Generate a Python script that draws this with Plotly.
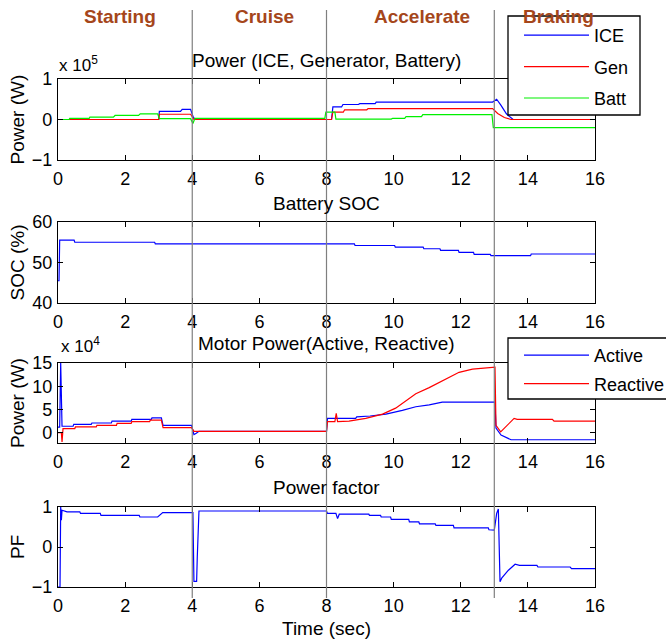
import plotly.graph_objects as go

# ---------------- data ----------------
# Power (ICE, Generator, Battery), units of 1e5 W
ice_t = [0, 3.0, 3.02, 3.65, 3.7, 3.95, 4.02, 4.08, 8.15, 8.19, 8.45, 8.49, 8.95, 8.99, 9.45, 9.48, 12.95, 13.07, 13.2, 13.36, 13.56, 16]
ice_p = [0, 0, 0.2, 0.2, 0.25, 0.25, 0.08, 0, 0, 0.31, 0.31, 0.37, 0.37, 0.39, 0.39, 0.43, 0.43, 0.5, 0.35, 0.14, 0, 0]

gen_t = [0, 3.0, 3.02, 3.95, 4.05, 8.15, 8.19, 8.5, 8.54, 9.2, 9.24, 12.95, 13.1, 13.3, 13.5, 16]
gen_p = [0, 0, 0.13, 0.13, 0, 0, 0.18, 0.18, 0.24, 0.24, 0.27, 0.27, 0.15, 0.05, 0, 0]

batt_t = [0, 0.33, 0.35, 0.93, 0.95, 1.65, 1.7, 2.4, 2.45, 2.97, 3.02, 3.95, 4.02, 4.08, 4.15, 7.95, 7.98, 8.25, 8.28,
          9.93, 9.97, 10.33, 10.37, 10.83, 10.87, 12.93, 12.97, 16]
batt_p = [0, 0, 0.03, 0.03, 0.06, 0.06, 0.1, 0.1, 0.14, 0.14, 0.02, 0.02, -0.1, 0.03, 0.03, 0.03, 0.18, 0.18, 0.01,
          0.01, 0.03, 0.03, 0.07, 0.07, 0.12, 0.12, -0.2, -0.2]

# Battery SOC (%)
soc_t = [0, 0.03, 0.05, 0.48, 0.5, 2.88, 2.9, 8.83, 8.85, 10.03, 10.05, 10.88, 10.9, 11.38, 11.4, 11.93, 11.95,
         12.38, 12.4, 12.88, 12.9, 14.08, 14.1, 16]
soc_v = [45.5, 45.5, 55.5, 55.5, 55.0, 55.0, 54.6, 54.6, 54.2, 54.2, 53.8, 53.8, 53.4, 53.4, 53.0, 53.0, 52.5,
         52.5, 52.0, 52.0, 51.7, 51.7, 52.1, 52.1]

# Motor power, units of 1e4 W
act_t = [0, 0.05, 0.08, 0.12, 0.45, 0.47, 0.99, 1.01, 1.59, 1.61, 2.18, 2.2, 2.78, 2.8, 3.08, 3.13, 3.98, 4.05, 4.12,
         4.2, 8.0, 8.03, 8.87, 8.9, 9.3, 9.77, 10.26, 10.66, 11.06, 11.45, 13.02, 13.05, 13.2, 13.5, 16]
act_p = [1.2, 1.2, 15, 1.4, 1.4, 1.8, 1.8, 2.1, 2.1, 2.5, 2.5, 2.9, 2.9, 3.2, 3.2, 1.6, 1.6, -0.4, -0.1,
         0.3, 0.3, 3.1, 3.1, 3.4, 3.6, 4.0, 4.8, 5.6, 6.0, 6.6, 6.6, 1.0, -0.5, -1.5, -1.5]

rea_t = [0, 0.1, 0.12, 0.15, 0.5, 0.52, 1.14, 1.16, 1.74, 1.76, 2.18, 2.2, 2.73, 2.75, 3.08, 3.13, 3.98, 4.05,
         8.0, 8.03, 8.25, 8.29, 8.33, 8.67, 9.17, 9.67, 10.06, 10.36, 10.66, 11.06, 11.55, 11.95, 12.35, 12.84,
         13.02, 13.05, 13.19, 13.59, 13.68, 14.73, 14.78, 16]
rea_p = [0, 0, -2.0, 0.9, 0.9, 1.25, 1.25, 1.6, 1.6, 2.0, 2.0, 2.4, 2.4, 2.7, 2.7, 1.1, 1.1, 0.3,
         0.3, 2.4, 2.4, 4.2, 2.4, 2.5, 3.1, 4.0, 5.3, 6.8, 8.4, 9.7, 11.6, 13.0, 13.7, 14.1,
         14.1, 1.6, 0.2, 3.1, 2.9, 2.9, 2.5, 2.5]

# Power factor
pf_t = [0, 0.06, 0.08, 0.1, 0.12, 0.25, 0.27, 0.65, 0.67, 1.26, 1.28, 2.42, 2.44, 2.97, 3.05, 3.12, 3.98, 4.02,
        4.05, 4.13, 4.15, 4.2, 8.0, 8.03, 8.28, 8.33, 8.38, 9.26, 9.28, 9.61, 9.63, 9.91, 9.93, 10.45, 10.47,
        10.75, 10.77, 11.24, 11.26, 11.78, 11.8, 12.82, 12.84, 13.0, 13.07, 13.12, 13.17, 13.22, 13.42, 13.62,
        13.75, 14.27, 14.3, 15.26, 15.3, 16]
pf_v = [-1, -1, 1.0, 0.67, 0.92, 0.9, 0.88, 0.88, 0.84, 0.84, 0.79, 0.79, 0.75, 0.75, 0.8, 0.86, 0.86, 0.86,
        -0.86, -0.86, -0.25, 0.9, 0.9, 0.84, 0.84, 0.71, 0.82, 0.82, 0.79, 0.79, 0.75, 0.75, 0.69, 0.69, 0.63,
        0.63, 0.58, 0.58, 0.54, 0.54, 0.48, 0.48, 0.43, 0.42, 0.84, 0.95, -0.87, -0.78, -0.58, -0.43,
        -0.46, -0.46, -0.5, -0.5, -0.54, -0.54]

phase_names = ["Starting", "Cruise", "Accelerate", "Braking"]
phase_centers = [1.85, 6.15, 10.85, 14.9]
phase_bounds = [4, 8, 13]

x_ticks = list(range(0, 17, 2))

# ---------------- figure ----------------
W, H = 666, 642
FONT = "Liberation Sans, Arial, sans-serif"


def px_x(p):
    return p / W


def px_y(p):
    return 1 - p / H


x_dom = [px_x(58), px_x(595)]
panels = [(79, 160), (222, 303), (363, 443), (507, 587)]

fig = go.Figure()

blue, red, green = "#0000FF", "#FF0000", "#00F000"
lw = 1.2

fig.add_trace(go.Scatter(x=ice_t, y=ice_p, mode="lines", name="ICE", line=dict(color=blue, width=lw),
                         xaxis="x", yaxis="y", legend="legend", legendgroup="a"))
fig.add_trace(go.Scatter(x=gen_t, y=gen_p, mode="lines", name="Gen", line=dict(color=red, width=lw),
                         xaxis="x", yaxis="y", legend="legend", legendgroup="b"))
fig.add_trace(go.Scatter(x=batt_t, y=batt_p, mode="lines", name="Batt", line=dict(color=green, width=lw),
                         xaxis="x", yaxis="y", legend="legend", legendgroup="c"))
fig.add_trace(go.Scatter(x=soc_t, y=soc_v, mode="lines", name="SOC", line=dict(color=blue, width=lw),
                         xaxis="x2", yaxis="y2", showlegend=False))
fig.add_trace(go.Scatter(x=act_t, y=act_p, mode="lines", name="Active", line=dict(color=blue, width=lw),
                         xaxis="x3", yaxis="y3", legend="legend2", legendgroup="d"))
fig.add_trace(go.Scatter(x=rea_t, y=rea_p, mode="lines", name="Reactive", line=dict(color=red, width=lw),
                         xaxis="x3", yaxis="y3", legend="legend2", legendgroup="e"))
fig.add_trace(go.Scatter(x=pf_t, y=pf_v, mode="lines", name="PF", line=dict(color=blue, width=lw),
                         xaxis="x4", yaxis="y4", showlegend=False))

axis_common = dict(showline=True, linecolor="black", linewidth=1.3, mirror="ticks", ticks="inside",
                   ticklen=5, tickcolor="black", showgrid=False, zeroline=False, automargin=False,
                   tickfont=dict(family=FONT, size=18, color="black"))

y_ranges = [[-1, 1], [40, 60], [-2.2, 15], [-1, 1]]
y_ticks = [[-1, 0, 1], [40, 50, 60], [0, 5, 10, 15], [-1, 0, 1]]

layout = dict(width=W, height=H, margin=dict(l=0, r=0, t=0, b=0, autoexpand=False), plot_bgcolor="white",
              paper_bgcolor="white", font=dict(family=FONT, size=18, color="black"))
for i, (top, bot) in enumerate(panels):
    k = "" if i == 0 else str(i + 1)
    layout["xaxis" + k] = dict(axis_common, domain=x_dom, range=[0, 16], tickvals=x_ticks,
                               anchor="y" + k, ticklabelstandoff=2)
    layout["yaxis" + k] = dict(axis_common, domain=[px_y(bot), px_y(top)], range=y_ranges[i],
                               tickvals=y_ticks[i], anchor="x" + k, ticklabelstandoff=1)
fig.update_layout(**layout)

# phase boundary lines spanning all panels
shapes = []
for b in phase_bounds:
    shapes.append(dict(type="line", xref="x", yref="paper", x0=b, x1=b, y0=px_y(598), y1=px_y(10),
                       line=dict(color="#7f7f7f", width=1.2), layer="above"))
# legend boxes (MATLAB style, opaque)
shapes.append(dict(type="rect", xref="paper", yref="paper", x0=px_x(508), x1=px_x(640), y0=px_y(115),
                   y1=px_y(16), line=dict(color="black", width=1.3), fillcolor="white", layer="above"))
shapes.append(dict(type="rect", xref="paper", yref="paper", x0=px_x(508), x1=px_x(670), y0=px_y(399),
                   y1=px_y(338), line=dict(color="black", width=1.3), fillcolor="white", layer="above"))
fig.update_layout(shapes=shapes)

fig.update_layout(
    legend=dict(x=px_x(519), y=px_y(17), xanchor="left", yanchor="top", bgcolor="rgba(0,0,0,0)",
                borderwidth=0, itemwidth=65, traceorder="grouped", tracegroupgap=5,
                font=dict(family=FONT, size=18, color="black")),
    legend2=dict(x=px_x(519), y=px_y(337), xanchor="left", yanchor="top", bgcolor="rgba(0,0,0,0)",
                 borderwidth=0, itemwidth=65, traceorder="grouped", tracegroupgap=2,
                 font=dict(family=FONT, size=18, color="black")),
)

ann = []
# phase labels
for name, c in zip(phase_names, phase_centers):
    ann.append(dict(text="<b>" + name + "</b>", x=c, xref="x", y=px_y(17), yref="paper", showarrow=False,
                    font=dict(family=FONT, size=19, color="#A5461B"), xanchor="center", yanchor="middle"))
# panel titles
titles = ["Power (ICE, Generator, Battery)", "Battery SOC", "Motor Power(Active, Reactive)", "Power factor"]
title_y = [60, 203, 343, 487]
for t, yy in zip(titles, title_y):
    ann.append(dict(text=t, x=px_x(326.5), xref="paper", y=px_y(yy), yref="paper", showarrow=False,
                    font=dict(family=FONT, size=19), xanchor="center", yanchor="middle"))
# y axis titles
ylabels = ["Power (W)", "SOC (%)", "Power (W)", "PF"]
for lab, (top, bot) in zip(ylabels, panels):
    ann.append(dict(text=lab, x=px_x(17), xref="paper", y=px_y((top + bot) / 2), yref="paper",
                    showarrow=False, textangle=-90, font=dict(family=FONT, size=19),
                    xanchor="center", yanchor="middle"))
# exponent labels
ann.append(dict(text="x 10<sup>5</sup>", x=px_x(57), xref="paper", y=px_y(64), yref="paper", showarrow=False,
                font=dict(family=FONT, size=17), xanchor="left", yanchor="middle"))
ann.append(dict(text="x 10<sup>4</sup>", x=px_x(59), xref="paper", y=px_y(345), yref="paper", showarrow=False,
                font=dict(family=FONT, size=17), xanchor="left", yanchor="middle"))
# x axis title
ann.append(dict(text="Time (sec)", x=px_x(326.5), xref="paper", y=px_y(628), yref="paper", showarrow=False,
                font=dict(family=FONT, size=19), xanchor="center", yanchor="middle"))
fig.update_layout(annotations=ann)

fig.write_html("out.html", config={"displayModeBar": False},
               post_script="document.body.style.margin='0';document.body.style.overflow='hidden';")
